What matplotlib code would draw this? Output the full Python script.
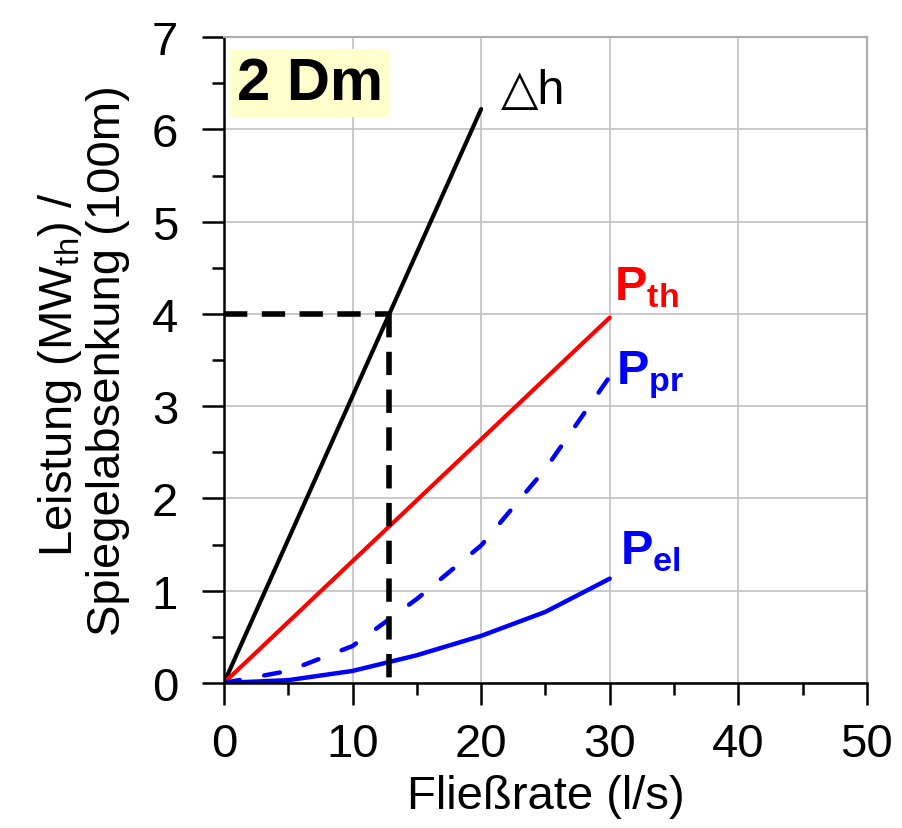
import matplotlib
matplotlib.use("Agg")
import matplotlib.pyplot as plt
from matplotlib.ticker import MultipleLocator

plt.rcParams['font.family'] = ['Liberation Sans', 'DejaVu Sans']
plt.rcParams['mathtext.fontset'] = 'custom'
plt.rcParams['mathtext.rm'] = 'Liberation Sans'
plt.rcParams['mathtext.it'] = 'Liberation Sans'
plt.rcParams['mathtext.bf'] = 'Liberation Sans:bold'

# Data
x_dh = [0, 20]
y_dh = [0, 6.22]
x_pth = [0, 30]
y_pth = [0, 3.96]
x_ppr = [0, 5, 10, 15, 20, 25, 30]
y_ppr = [0, 0.13, 0.40, 0.91, 1.49, 2.32, 3.32]
x_pel = [0, 5, 10, 15, 20, 25, 30]
y_pel = [0, 0.03, 0.13, 0.30, 0.51, 0.77, 1.13]
x_mark = 12.8
y_mark = 4.0

fig = plt.figure(figsize=(9.03, 8.29), dpi=100)
ax = fig.add_axes([0.248, 0.175, 0.712, 0.779])

ax.set_xlim(0, 50)
ax.set_ylim(0, 7)
ax.xaxis.set_major_locator(MultipleLocator(10))
ax.xaxis.set_minor_locator(MultipleLocator(5))
ax.yaxis.set_major_locator(MultipleLocator(1))
ax.yaxis.set_minor_locator(MultipleLocator(0.5))
ax.grid(True, which='major', color='#c0c0c0', linewidth=1.2)
ax.set_axisbelow(True)
for s in ['top', 'right']:
    ax.spines[s].set_color('#aaaaaa')
    ax.spines[s].set_linewidth(1.5)
for s in ['left', 'bottom']:
    ax.spines[s].set_color('black')
    ax.spines[s].set_linewidth(1.8)
ax.tick_params(which='major', length=16, width=1.8, labelsize=34)
ax.tick_params(which='minor', length=8.6, width=1.8)
ax.tick_params(axis='y', which='major', pad=17)
ax.tick_params(axis='x', which='major', pad=12)

ax.plot(x_dh, y_dh, color='black', lw=3, solid_capstyle='round')
ax.plot(x_pth, y_pth, color='red', lw=3, solid_capstyle='round')
ax.plot(x_ppr, y_ppr, color='blue', lw=3.2, dashes=(3.6, 5.6), dash_capstyle='round')
ax.plot(x_pel, y_pel, color='blue', lw=3.2, solid_capstyle='round')

ax.plot([0, x_mark], [y_mark, y_mark], color='black', lw=4, dashes=(4.2, 2.6))
ax.plot([x_mark, x_mark], [y_mark, 0], color='black', lw=4, dashes=(4.2, 2.6))

ax.text(6.7, 6.5, '2 Dm', fontsize=43, fontweight='bold', ha='center', va='center',
        bbox=dict(boxstyle='square,pad=0.11', fc='#ffffcc', ec='none'))
ax.text(24.0, 6.42, '△h', fontsize=35, ha='center', va='center',
        bbox=dict(boxstyle='square,pad=0.06', fc='white', ec='none'))
ax.text(30.3, 4.3, r'$\mathbf{P_{th}}$', fontsize=35, color='red', ha='left', va='center')
ax.text(30.5, 3.35, r'$\mathbf{P_{pr}}$', fontsize=35, color='blue', ha='left', va='center')
ax.text(30.8, 1.43, r'$\mathbf{P_{el}}$', fontsize=35, color='blue', ha='left', va='center')

ax.set_xlabel('Fließrate (l/s)', fontsize=34, labelpad=6)
ax.set_ylabel('Leistung (MW$_{\\mathrm{th}}$) /   \nSpiegelabsenkung (100m)', fontsize=34,
              linespacing=1.05)
ax.yaxis.set_label_coords(-0.146, 0.5)

fig.savefig('out.png', dpi=100)
